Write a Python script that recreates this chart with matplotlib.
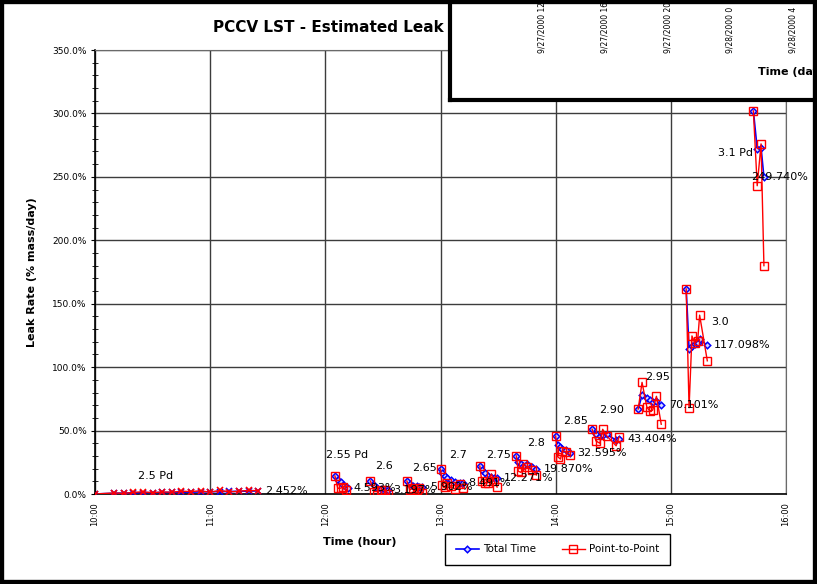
import matplotlib
matplotlib.use("Agg")
import matplotlib.pyplot as plt
from matplotlib.patches import Rectangle
from matplotlib.ticker import MultipleLocator, FuncFormatter

# ---------------- data ----------------
# minutes after 10:00 for each pressure step
seg_minutes = [
    [0, 10, 15, 20, 25, 30, 35, 40, 45, 50, 55, 60, 65, 70, 75, 80, 85],
    [125, 126.5, 128, 129, 131, 132],
    [143.5, 145.5, 147, 149, 151, 152.5],
    [162.5, 164, 165.5, 167.5, 169, 170.5],
    [180, 181, 182.5, 183.5, 185.5, 187.5, 190, 191.5],
    [200.5, 201.5, 203, 204.5, 206.5, 208, 209.5],
    [219.5, 220.5, 222, 223, 225, 227.5, 230],
    [240, 241, 242.5, 243.5, 245.5, 247.5],
    [259, 261, 263, 264.5, 266.5, 271.5, 273],
    [283, 285, 287.5, 289, 290.5, 292.5, 295],
    [308, 309.5, 311, 312.5, 314, 315, 319],
    [343, 345, 347, 348.5],
]
total_time = [
    [0.0, 0.6, 0.7, 0.9, 1.0, 1.1, 1.2, 1.3, 1.4, 1.5, 1.6, 1.8, 1.9, 2.0, 2.1, 2.3, 2.452],
    [14.2, 11.0, 9.5, 7.0, 5.5, 4.593],
    [10.2, 7.0, 5.0, 4.0, 3.4, 3.197],
    [10.2, 7.6, 6.6, 6.0, 5.7, 5.902],
    [19.7, 16.5, 14.0, 12.5, 11.0, 9.5, 9.0, 8.491],
    [22.0, 19.0, 16.5, 14.0, 13.4, 12.6, 12.271],
    [30.0, 25.0, 23.5, 22.0, 23.5, 21.0, 19.870],
    [45.7, 38.6, 37.0, 35.5, 34.7, 32.595],
    [51.0, 47.0, 45.7, 46.5, 47.0, 42.5, 43.404],
    [67.0, 78.0, 75.5, 74.0, 72.5, 73.0, 70.101],
    [161.6, 114.0, 116.7, 118.0, 119.0, 122.0, 117.098],
    [302.0, 272.0, 273.0, 249.740],
]
point_to_point = [
    [0.0, 0.8, 0.5, 1.3, 1.7, 1.0, 1.6, 1.4, 2.2, 1.9, 2.6, 1.3, 2.9, 1.6, 2.2, 2.8, 2.6],
    [14.2, 4.5, 4.6, 5.5, 3.0, -8.0],
    [10.2, 1.8, 2.0, 3.0, 3.4, 0.3],
    [10.2, 3.0, 4.7, 3.0, 4.5, 0.8],
    [19.7, 7.0, 5.5, 8.7, 6.0, 4.0, 8.0, 5.0],
    [22.0, 10.0, 9.0, 8.7, 15.8, 10.0, 5.5],
    [30.0, 18.0, 17.0, 23.5, 21.0, 19.0, 15.0],
    [45.7, 29.5, 27.5, 34.0, 33.0, 31.0],
    [51.0, 41.8, 40.0, 51.0, 46.0, 38.0, 45.0],
    [67.0, 88.0, 68.5, 65.5, 66.0, 77.0, 55.0],
    [161.6, 68.0, 124.6, 119.0, 121.0, 141.0, 105.0],
    [302.0, 243.0, 276.0, 180.0],
]
pressure_labels = ["2.5 Pd", "2.55 Pd", "2.6", "2.65", "2.7", "2.75", "2.8",
                   "2.85", "2.90", "2.95", "3.0", "3.1 Pd"]
x_ticklabels = ["10:00", "11:00", "12:00", "13:00", "14:00", "15:00", "16:00"]
overlay_dates = ["9/27/2000 12", "9/27/2000 16", "9/27/2000 20",
                 "9/28/2000 0", "9/28/2000 4"]

# label anchor positions (minutes after 10:00, percent) - layout only
plabel_min = [31.7, 131.2, 150.4, 171.7, 188.9, 210.2, 230.0, 250.3, 269.0, 293.0, 325.8, 333.6]
plabel_pct = [14.2, 30.7, 22.1, 20.5, 30.7, 30.7, 40.2, 57.5, 66.2, 92.2, 135.6, 268.8]
vlabel_dx = [5, 4, 4, 6, 4, 5, 5, 5, 6, 6, 5, -9]   # points

# ---------------- figure ----------------
W, H = 817, 584
fig = plt.figure(figsize=(W / 100, H / 100), dpi=100, facecolor="white")
plt.rcParams["font.family"] = ["DejaVu Sans"]

ax = fig.add_axes([95 / W, 1 - 494 / H, (786 - 95) / W, (494 - 50) / H])
ax.set_xlim(10, 16)
ax.set_ylim(0, 350)

ax.set_xticks(range(10, 17))
ax.set_xticklabels(x_ticklabels, rotation=90, fontsize=6)
ax.yaxis.set_major_locator(MultipleLocator(50))
ax.yaxis.set_minor_locator(MultipleLocator(10))
ax.yaxis.set_major_formatter(FuncFormatter(lambda v, p: f"{v:.1f}%"))
ax.tick_params(axis="y", which="major", labelsize=6.5, length=3, direction="out", pad=3)
ax.tick_params(axis="y", which="minor", length=4, direction="inout")
ax.tick_params(axis="x", which="major", length=0, pad=6)
ax.grid(True, which="major", color="#3c3c3c", lw=1.0)
ax.set_axisbelow(True)
for s in ("top", "right"):
    ax.spines[s].set_color("#6a6a6a")
for s in ("left", "bottom"):
    ax.spines[s].set_color("black")
    ax.spines[s].set_linewidth(1.2)

for i, (m, tt, pp) in enumerate(zip(seg_minutes, total_time, point_to_point)):
    hrs = [10 + v / 60 for v in m]
    if i == 0:
        ax.plot(hrs, tt, color="blue", lw=1.2, marker="x", ms=4.5, mew=1.2, zorder=3)
        ax.plot(hrs, pp, color="red", lw=1.0, marker="x", ms=4.5, mew=1.2, zorder=4)
    else:
        ax.plot(hrs, tt, color="blue", lw=1.2, marker="D", ms=3.3, mfc="#d8d8ff", mew=1.1,
                zorder=3, label="Total Time" if i == 1 else None)
        ax.plot(hrs, pp, color="red", lw=1.0, marker="s", ms=5.2, mfc="none", mew=1.0,
                zorder=4, label="Point-to-Point" if i == 1 else None)
    # final value label
    ax.annotate(f"{tt[-1]:.3f}%", (hrs[-1], tt[-1]), xytext=(vlabel_dx[i], 0),
                textcoords="offset points", ha="left", va="center", fontsize=8, zorder=6)
    ax.text(10 + plabel_min[i] / 60, plabel_pct[i], pressure_labels[i],
            ha="center", va="center", fontsize=8, zorder=6)

ax.set_ylabel("Leak Rate (% mass/day)", fontsize=8, fontweight="bold")
ax.yaxis.set_label_coords((37 - 95) / (786 - 95), 0.5)
ax.set_xlabel("Time (hour)", fontsize=8, fontweight="bold")
ax.xaxis.set_label_coords((360 - 95) / (786 - 95), (494 - 537) / 444)

leg = ax.legend(loc="center", bbox_to_anchor=(557.5 / W, 1 - 549.5 / H),
                bbox_transform=fig.transFigure, ncol=2, fontsize=7.5, frameon=True,
                fancybox=False, edgecolor="black", framealpha=1, handlelength=2.2,
                columnspacing=2.5, borderpad=1.0, handletextpad=0.4)
leg.get_frame().set_linewidth(1.0)

fig.text(213 / W, 1 - 27 / H, "PCCV LST - Estimated Leak Rate", ha="left", va="center",
         fontsize=11, fontweight="bold", zorder=1)

# overlaid second chart fragment
ax2 = fig.add_axes([450 / W, 1 - 100 / H, 0.6, 0.3], zorder=10)
ax2.set_facecolor("white")
ax2.set_xticks([])
ax2.set_yticks([])
for s in ax2.spines.values():
    s.set_linewidth(3.0)
    s.set_color("black")
for k, d in enumerate(overlay_dates):
    ax2.text((542 + 62.8 * k) / W, 1 - 53 / H, d, rotation=90, ha="center", va="bottom",
             fontsize=5.5, transform=fig.transFigure, clip_on=False)
ax2.text(758 / W, 1 - 72 / H, "Time (days)", ha="left", va="center", fontsize=8,
         fontweight="bold", transform=fig.transFigure, clip_on=False)

# outer frame
fig.add_artist(Rectangle((0, 0), 1, 1, transform=fig.transFigure, fill=False,
                         lw=6, edgecolor="black", zorder=20))

fig.savefig("out.png", dpi=100, facecolor="white")
